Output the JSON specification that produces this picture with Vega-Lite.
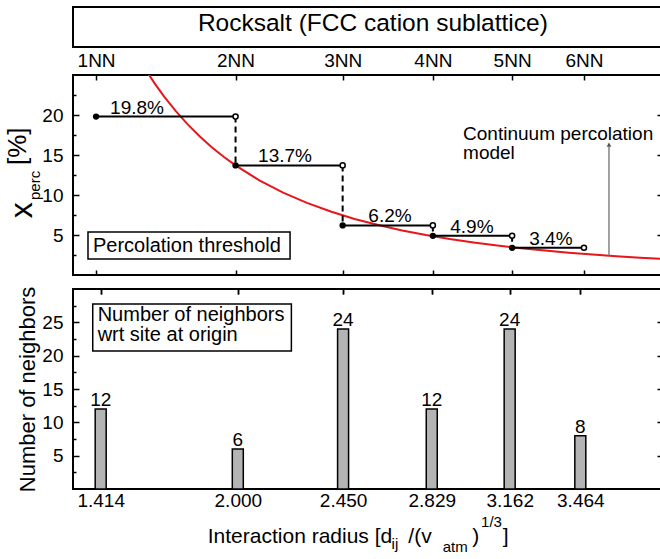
{
  "$schema": "https://vega.github.io/schema/vega-lite/v6.json",
  "background": "white",
  "padding": {"left": 4, "top": 4, "right": 0, "bottom": 0},
  "config": {
    "font": "Liberation Sans",
    "view": {"stroke": "black", "strokeWidth": 2},
    "axis": {"grid": false, "domain": false, "tickColor": "black", "tickWidth": 1.5, "labelColor": "black", "labelFontSize": 19, "labelFont": "Liberation Sans", "titleColor": "black", "titleFontWeight": "normal", "labelFlush": false, "labelOverlap": false},
    "text": {"color": "black"}
  },
  "datasets": {
    "curve": [
      {"r": 1.63, "p": 25.31}, {"r": 1.66, "p": 23.96}, {"r": 1.7, "p": 22.31}, {"r": 1.75, "p": 20.45},
      {"r": 1.8, "p": 18.79}, {"r": 1.85, "p": 17.31}, {"r": 1.9, "p": 15.98}, {"r": 1.95, "p": 14.78},
      {"r": 2.0, "p": 13.7}, {"r": 2.1, "p": 11.83}, {"r": 2.2, "p": 10.29}, {"r": 2.3, "p": 9.01},
      {"r": 2.4, "p": 7.93}, {"r": 2.5, "p": 7.01}, {"r": 2.6, "p": 6.24}, {"r": 2.7, "p": 5.57},
      {"r": 2.8, "p": 4.99}, {"r": 2.9, "p": 4.49}, {"r": 3.0, "p": 4.06}, {"r": 3.1, "p": 3.68},
      {"r": 3.2, "p": 3.34}, {"r": 3.3, "p": 3.05}, {"r": 3.4, "p": 2.79}, {"r": 3.5, "p": 2.56},
      {"r": 3.6, "p": 2.35}, {"r": 3.7, "p": 2.16}, {"r": 3.796, "p": 2.0}
    ],
    "steps": [
      {"r": 1.414, "r_next": 2.0, "p": 19.8, "p_next": 13.7, "label": "19.8%", "lx": 1.586},
      {"r": 2.0, "r_next": 2.45, "p": 13.7, "p_next": 6.2, "label": "13.7%", "lx": 2.208},
      {"r": 2.45, "r_next": 2.829, "p": 6.2, "p_next": 4.9, "label": "6.2%", "lx": 2.649},
      {"r": 2.829, "r_next": 3.162, "p": 4.9, "p_next": 3.4, "label": "4.9%", "lx": 2.993},
      {"r": 3.162, "r_next": 3.464, "p": 3.4, "p_next": null, "label": "3.4%", "lx": 3.325}
    ],
    "bars": [
      {"r": 1.414, "n": 12}, {"r": 2.0, "n": 6}, {"r": 2.45, "n": 24},
      {"r": 2.829, "n": 12}, {"r": 3.162, "n": 24}, {"r": 3.464, "n": 8}
    ]
  },
  "spacing": 8,
  "vconcat": [
    {
      "width": 590,
      "height": 200,
      "resolve": {"axis": {"x": "independent", "y": "independent"}},
      "layer": [
        {
          "data": {"values": [{"x1": 1.317, "x2": 3.796, "y1": 28.5, "y2": 33.5}]},
          "mark": {"type": "rect", "fill": "white", "stroke": "black", "strokeWidth": 2},
          "encoding": {
            "x": {"field": "x1", "type": "quantitative", "scale": {"domain": [1.317, 3.796], "nice": false, "zero": false},
              "axis": {"orient": "top", "values": [1.414, 2.0, 2.45, 2.829, 3.162, 3.464], "labelExpr": "datum.value < 1.5 ? '1NN' : datum.value < 2.2 ? '2NN' : datum.value < 2.6 ? '3NN' : datum.value < 3 ? '4NN' : datum.value < 3.3 ? '5NN' : '6NN'", "tickSize": -5, "labelPadding": 10, "title": null}},
            "x2": {"field": "x2"},
            "y": {"field": "y1", "type": "quantitative", "scale": {"domain": [0, 25], "nice": false, "zero": false},
              "axis": {"orient": "left", "values": [5, 10, 15, 20], "tickSize": -6, "labelPadding": 16, "title": null}},
            "y2": {"field": "y2"}
          }
        },
        {
          "data": {"values": [{"x": 2.577, "y": 30.5, "t": "Rocksalt (FCC cation sublattice)"}]},
          "mark": {"type": "text", "fontSize": 24.5, "align": "center", "baseline": "alphabetic"},
          "encoding": {
            "x": {"field": "x", "type": "quantitative", "scale": {"domain": [1.317, 3.796], "nice": false, "zero": false},
              "axis": {"orient": "bottom", "values": [1.414, 2.0, 2.45, 2.829, 3.162, 3.464], "tickSize": -5, "labels": false, "title": null}},
            "y": {"field": "y", "type": "quantitative", "scale": {"domain": [0, 25], "nice": false, "zero": false},
              "axis": {"orient": "right", "values": [5, 10, 15, 20], "tickSize": -6, "labels": false, "title": null}},
            "text": {"field": "t"}
          }
        },
        {
          "data": {"values": [{"x1": 1.38, "x2": 2.229, "y1": 5.375, "y2": 2.0}]},
          "mark": {"type": "rect", "fill": "white", "stroke": "black", "strokeWidth": 1.5},
          "encoding": {
            "x": {"field": "x1", "type": "quantitative", "scale": {"domain": [1.317, 3.796], "nice": false, "zero": false}, "axis": null},
            "x2": {"field": "x2"},
            "y": {"field": "y1", "type": "quantitative", "scale": {"domain": [0, 25], "nice": false, "zero": false},
              "axis": {"orient": "left", "values": [2.5, 7.5, 12.5, 17.5, 22.5], "tickSize": -3, "labels": false, "title": null}},
            "y2": {"field": "y2"}
          }
        },
        {
          "data": {"values": [{"x": 1.401, "y": 2.875, "t": "Percolation threshold"}]},
          "mark": {"type": "text", "fontSize": 20, "align": "left", "baseline": "alphabetic"},
          "encoding": {
            "x": {"field": "x", "type": "quantitative", "scale": {"domain": [1.317, 3.796], "nice": false, "zero": false}, "axis": null},
            "y": {"field": "y", "type": "quantitative", "scale": {"domain": [0, 25], "nice": false, "zero": false},
              "axis": {"orient": "right", "values": [2.5, 7.5, 12.5, 17.5, 22.5], "tickSize": -3, "labels": false, "title": null}},
            "text": {"field": "t"}
          }
        },
        {
          "data": {"name": "curve"},
          "mark": {"type": "line", "color": "#e8161b", "strokeWidth": 2, "clip": true},
          "encoding": {
            "x": {"field": "r", "type": "quantitative", "scale": {"domain": [1.317, 3.796], "nice": false, "zero": false}, "axis": null},
            "y": {"field": "p", "type": "quantitative", "scale": {"domain": [0, 25], "nice": false, "zero": false}, "axis": null}
          }
        },
        {
          "data": {"values": [{"x": 3.569, "y1": 2.41, "y2": 16.0}]},
          "mark": {"type": "rule", "color": "#707070", "strokeWidth": 1.3},
          "encoding": {
            "x": {"field": "x", "type": "quantitative", "scale": {"domain": [1.317, 3.796], "nice": false, "zero": false}, "axis": null},
            "y": {"field": "y1", "type": "quantitative", "scale": {"domain": [0, 25], "nice": false, "zero": false}, "axis": null},
            "y2": {"field": "y2"}
          }
        },
        {
          "data": {"values": [{"x": 3.569, "y": 16.3}]},
          "mark": {"type": "point", "shape": "triangle-up", "filled": true, "color": "#505050", "size": 22, "opacity": 1},
          "encoding": {
            "x": {"field": "x", "type": "quantitative", "scale": {"domain": [1.317, 3.796], "nice": false, "zero": false}, "axis": null},
            "y": {"field": "y", "type": "quantitative", "scale": {"domain": [0, 25], "nice": false, "zero": false}, "axis": null}
          }
        },
        {
          "data": {"values": [{"x": 2.956, "y": 16.9, "t": "Continuum percolation"}, {"x": 2.956, "y": 14.5, "t": "model"}]},
          "mark": {"type": "text", "fontSize": 19, "align": "left", "baseline": "alphabetic"},
          "encoding": {
            "x": {"field": "x", "type": "quantitative", "scale": {"domain": [1.317, 3.796], "nice": false, "zero": false}, "axis": null},
            "y": {"field": "y", "type": "quantitative", "scale": {"domain": [0, 25], "nice": false, "zero": false}, "axis": null},
            "text": {"field": "t"}
          }
        },
        {
          "data": {"name": "steps"},
          "mark": {"type": "rule", "color": "black", "strokeWidth": 2},
          "encoding": {
            "x": {"field": "r", "type": "quantitative", "scale": {"domain": [1.317, 3.796], "nice": false, "zero": false}, "axis": null},
            "x2": {"field": "r_next"},
            "y": {"field": "p", "type": "quantitative", "scale": {"domain": [0, 25], "nice": false, "zero": false}, "axis": null}
          }
        },
        {
          "data": {"name": "steps"},
          "transform": [{"filter": "datum.p_next != null"}],
          "mark": {"type": "rule", "color": "black", "strokeWidth": 2, "strokeDash": [6, 4]},
          "encoding": {
            "x": {"field": "r_next", "type": "quantitative", "scale": {"domain": [1.317, 3.796], "nice": false, "zero": false}, "axis": null},
            "y": {"field": "p", "type": "quantitative", "scale": {"domain": [0, 25], "nice": false, "zero": false}, "axis": null},
            "y2": {"field": "p_next"}
          }
        },
        {
          "data": {"name": "steps"},
          "mark": {"type": "point", "shape": "circle", "filled": true, "color": "black", "size": 40, "opacity": 1},
          "encoding": {
            "x": {"field": "r", "type": "quantitative", "scale": {"domain": [1.317, 3.796], "nice": false, "zero": false}, "axis": null},
            "y": {"field": "p", "type": "quantitative", "scale": {"domain": [0, 25], "nice": false, "zero": false}, "axis": null}
          }
        },
        {
          "data": {"name": "steps"},
          "mark": {"type": "point", "shape": "circle", "filled": true, "fill": "white", "stroke": "black", "strokeWidth": 1.5, "size": 26, "opacity": 1},
          "encoding": {
            "x": {"field": "r_next", "type": "quantitative", "scale": {"domain": [1.317, 3.796], "nice": false, "zero": false}, "axis": null},
            "y": {"field": "p", "type": "quantitative", "scale": {"domain": [0, 25], "nice": false, "zero": false}, "axis": null}
          }
        },
        {
          "data": {"name": "steps"},
          "mark": {"type": "text", "fontSize": 19, "align": "center", "baseline": "alphabetic", "dy": -3},
          "encoding": {
            "x": {"field": "lx", "type": "quantitative", "scale": {"domain": [1.317, 3.796], "nice": false, "zero": false}, "axis": null},
            "y": {"field": "p", "type": "quantitative", "scale": {"domain": [0, 25], "nice": false, "zero": false}, "axis": null},
            "text": {"field": "label"}
          }
        },
        {
          "data": {"values": [{"x": 1.1447, "y": 7.1, "t": "x"}]},
          "mark": {"type": "text", "fontSize": 32, "angle": 270, "align": "left", "baseline": "alphabetic"},
          "encoding": {
            "x": {"field": "x", "type": "quantitative", "scale": {"domain": [1.317, 3.796], "nice": false, "zero": false}, "axis": null},
            "y": {"field": "y", "type": "quantitative", "scale": {"domain": [0, 25], "nice": false, "zero": false}, "axis": null},
            "text": {"field": "t"}
          }
        },
        {
          "data": {"values": [{"x": 1.1216, "y": 13.75, "t": "[%]"}]},
          "mark": {"type": "text", "fontSize": 26, "angle": 270, "align": "left", "baseline": "alphabetic"},
          "encoding": {
            "x": {"field": "x", "type": "quantitative", "scale": {"domain": [1.317, 3.796], "nice": false, "zero": false}, "axis": null},
            "y": {"field": "y", "type": "quantitative", "scale": {"domain": [0, 25], "nice": false, "zero": false}, "axis": null},
            "text": {"field": "t"}
          }
        },
        {
          "data": {"values": [{"x": 1.1796, "y": 9.375, "t": "perc"}]},
          "mark": {"type": "text", "fontSize": 15, "angle": 270, "align": "left", "baseline": "alphabetic"},
          "encoding": {
            "x": {"field": "x", "type": "quantitative", "scale": {"domain": [1.317, 3.796], "nice": false, "zero": false}, "axis": null},
            "y": {"field": "y", "type": "quantitative", "scale": {"domain": [0, 25], "nice": false, "zero": false}, "axis": null},
            "text": {"field": "t"}
          }
        }
      ]
    },
    {
      "width": 590,
      "height": 200,
      "resolve": {"axis": {"x": "independent", "y": "independent"}},
      "layer": [
        {
          "data": {"values": [{"x1": 1.38, "x2": 2.229, "y1": 27.75, "y2": 20.7}]},
          "mark": {"type": "rect", "fill": "white", "stroke": "black", "strokeWidth": 1.5},
          "encoding": {
            "x": {"field": "x1", "type": "quantitative", "scale": {"domain": [1.317, 3.796], "nice": false, "zero": false},
              "axis": {"orient": "top", "values": [1.414, 2.0, 2.45, 2.829, 3.162, 3.464], "tickSize": -5, "labels": false, "title": null}},
            "x2": {"field": "x2"},
            "y": {"field": "y1", "type": "quantitative", "scale": {"domain": [0, 30], "nice": false, "zero": false},
              "axis": {"orient": "left", "values": [2.5, 7.5, 12.5, 17.5, 22.5, 27.5], "tickSize": -3, "labels": false, "title": null}},
            "y2": {"field": "y2"}
          }
        },
        {
          "data": {"values": [{"x": 1.401, "y": 25.25, "t": "Number of neighbors"}, {"x": 1.401, "y": 22.25, "t": "wrt site at origin"}]},
          "mark": {"type": "text", "fontSize": 20, "align": "left", "baseline": "alphabetic"},
          "encoding": {
            "x": {"field": "x", "type": "quantitative", "scale": {"domain": [1.317, 3.796], "nice": false, "zero": false}, "axis": null},
            "y": {"field": "y", "type": "quantitative", "scale": {"domain": [0, 30], "nice": false, "zero": false},
              "axis": {"orient": "right", "values": [2.5, 7.5, 12.5, 17.5, 22.5, 27.5], "tickSize": -3, "labels": false, "title": null}},
            "text": {"field": "t"}
          }
        },
        {
          "data": {"name": "bars"},
          "mark": {"type": "bar", "width": 11, "fill": "#b4b4b4", "stroke": "black", "strokeWidth": 1.5},
          "encoding": {
            "x": {"field": "r", "type": "quantitative", "scale": {"domain": [1.317, 3.796], "nice": false, "zero": false},
              "axis": {"orient": "bottom", "values": [1.414, 2.0, 2.45, 2.829, 3.162, 3.464], "labelExpr": "format(datum.value, '.3f')", "tickSize": -5, "labelPadding": 7, "title": null}},
            "y": {"field": "n", "type": "quantitative", "scale": {"domain": [0, 30], "nice": false, "zero": false},
              "axis": {"orient": "left", "values": [5, 10, 15, 20, 25], "tickSize": -6, "labelPadding": 16, "title": "Number of neighbors", "titleFontSize": 22, "titlePadding": 2, "titleFont": "Liberation Sans"}}
          }
        },
        {
          "data": {"name": "bars"},
          "mark": {"type": "text", "fontSize": 19, "align": "center", "baseline": "alphabetic", "dy": -3},
          "encoding": {
            "x": {"field": "r", "type": "quantitative", "scale": {"domain": [1.317, 3.796], "nice": false, "zero": false},
              "axis": {"orient": "top", "values": [1.414, 2.0, 2.45, 2.829, 3.162, 3.464], "tickSize": -5, "labels": false, "title": null}},
            "y": {"field": "n", "type": "quantitative", "scale": {"domain": [0, 30], "nice": false, "zero": false},
              "axis": {"orient": "right", "values": [5, 10, 15, 20, 25], "tickSize": -6, "labels": false, "title": null}},
            "text": {"field": "n"}
          }
        },
        {
          "data": {"values": [
            {"x": 1.8716, "y": -8.1, "t": "Interaction radius [d"},
            {"x": 2.7288, "y": -8.1, "t": "/(v"},
            {"x": 3.0019, "y": -8.1, "t": ")"},
            {"x": 3.1321, "y": -8.1, "t": "]"}
          ]},
          "mark": {"type": "text", "fontSize": 21, "align": "left", "baseline": "alphabetic"},
          "encoding": {
            "x": {"field": "x", "type": "quantitative", "scale": {"domain": [1.317, 3.796], "nice": false, "zero": false}, "axis": null},
            "y": {"field": "y", "type": "quantitative", "scale": {"domain": [0, 30], "nice": false, "zero": false}, "axis": null},
            "text": {"field": "t"}
          }
        },
        {
          "data": {"values": [
            {"x": 2.6573, "y": -9.0, "t": "ij"},
            {"x": 2.8758, "y": -9.4, "t": "atm"},
            {"x": 3.0397, "y": -5.7, "t": "1/3"}
          ]},
          "mark": {"type": "text", "fontSize": 15, "align": "left", "baseline": "alphabetic"},
          "encoding": {
            "x": {"field": "x", "type": "quantitative", "scale": {"domain": [1.317, 3.796], "nice": false, "zero": false}, "axis": null},
            "y": {"field": "y", "type": "quantitative", "scale": {"domain": [0, 30], "nice": false, "zero": false}, "axis": null},
            "text": {"field": "t"}
          }
        }
      ]
    }
  ]
}
